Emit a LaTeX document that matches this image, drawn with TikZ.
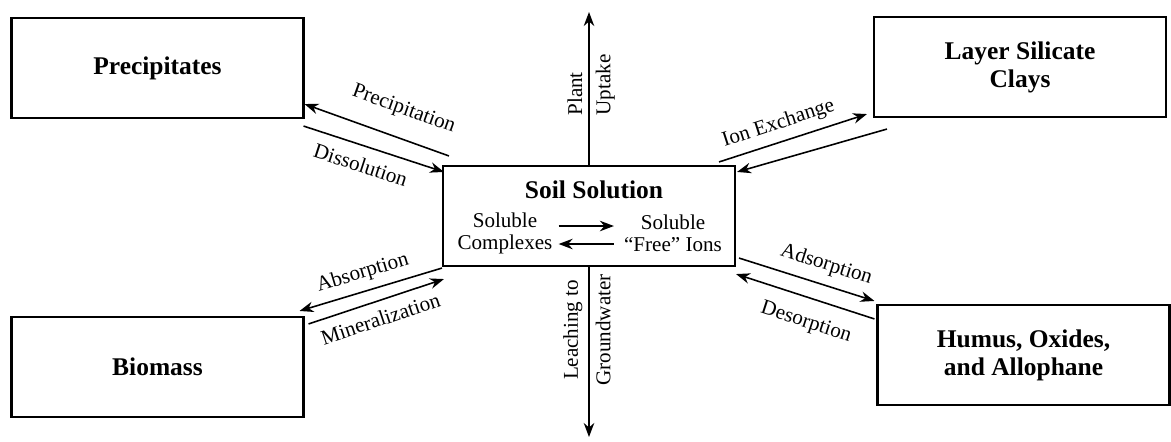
\documentclass[tikz,border=0pt]{standalone}
\usepackage{fontspec}
\setmainfont{Liberation Serif}
\usetikzlibrary{arrows.meta,calc}

\tikzset{
  pool/.style={draw, line width=1.2pt, minimum width=5.84cm, minimum height=2cm,
    align=center, font=\fontsize{14.5}{16}\selectfont\bfseries},
  flux/.style={line width=0.9pt, -{Stealth[length=8pt,width=6pt]}},
  lbl/.style={font=\fontsize{12}{12.5}\selectfont},
}

\begin{document}
\begin{tikzpicture}[x=0.02cm, y=-0.02cm]
  \useasboundingbox (0,0) rectangle (1171,441);
  % Pools
  \node[pool] (pre) at (157.5,68) {Precipitates};
  \node[pool] (clay) at (1020,67) {Layer Silicate\\Clays};
  \node[pool] (bio) at (157.5,367) {Biomass};
  \node[pool] (hum) at (1023.5,355) {Humus, Oxides,\\and Allophane};
  % Soil solution
  \node[pool] (soil) at (589,216) {};
  \node[font=\fontsize{14.5}{16}\selectfont\bfseries] (title) at (594,190) {Soil Solution};
  \node[lbl, align=center] (compl) at (505,233) {Soluble\\Complexes};
  \node[lbl, align=center] (ions) at (673,233) {Soluble\\“Free” Ions};
  \draw[flux] ($(compl.east)+(0,-7)$) -- ($(ions.west)+(-4,-7)$);
  \draw[flux] ($(ions.west)+(-4,11)$) -- ($(compl.east)+(0,11)$);
  % Uptake and leaching
  \coordinate (up) at (589,12);
  \coordinate (down) at (589,437);
  \draw[flux] (soil.north) -- (up)
    node[lbl, pos=0.28, rotate=90, anchor=south west] (plant) {Plant}
    node[lbl, pos=0.28, rotate=90, anchor=north west] (uptake) {Uptake};
  \draw[flux] (soil.south) -- (down)
    node[lbl, pos=0.37, rotate=90, anchor=south] (leach) {Leaching to}
    node[lbl, pos=0.37, rotate=90, anchor=north] (gw) {Groundwater};
  % Precipitates
  \draw[flux] ($(soil.north west)+(7,-9)$) -- ($(pre.south east)+(0,-15)$)
    node[lbl, pos=0.38, sloped, above=7pt] (precip) {Precipitation};
  \draw[flux] ($(pre.south east)+(-1,7)$) -- ($(soil.north west)+(2,7)$)
    node[lbl, pos=0.45, sloped, below=3pt] (diss) {Dissolution};
  % Clays
  \draw[flux] ($(soil.north east)+(-17,-3)$) -- ($(clay.south west)+(-6,-4)$)
    node[lbl, pos=0.44, sloped, above=1pt] (ionex) {Ion Exchange};
  \draw[flux] ($(clay.south west)+(14,11)$) -- ($(soil.north east)+(1,7)$);
  % Biomass
  \draw[flux] ($(soil.south west)+(0,1)$) -- ($(bio.north east)+(-5,-5)$)
    node[lbl, pos=0.52, sloped, above=1pt] (absorp) {Absorption};
  \draw[flux] ($(bio.north east)+(4,8)$) -- ($(soil.south west)+(2,12)$)
    node[lbl, pos=0.49, sloped, below=2pt] (miner) {Mineralization};
  % Humus, oxides, allophane
  \draw[flux] ($(soil.south east)+(3,-9)$) -- ($(hum.north west)+(-2,-3)$)
    node[lbl, pos=0.6, sloped, above=2pt] (adsorp) {Adsorption};
  \draw[flux] ($(hum.north west)+(-2,15)$) -- ($(soil.south east)+(0,7)$)
    node[lbl, pos=0.44, sloped, below=5pt] (desorp) {Desorption};
\end{tikzpicture}
\end{document}
